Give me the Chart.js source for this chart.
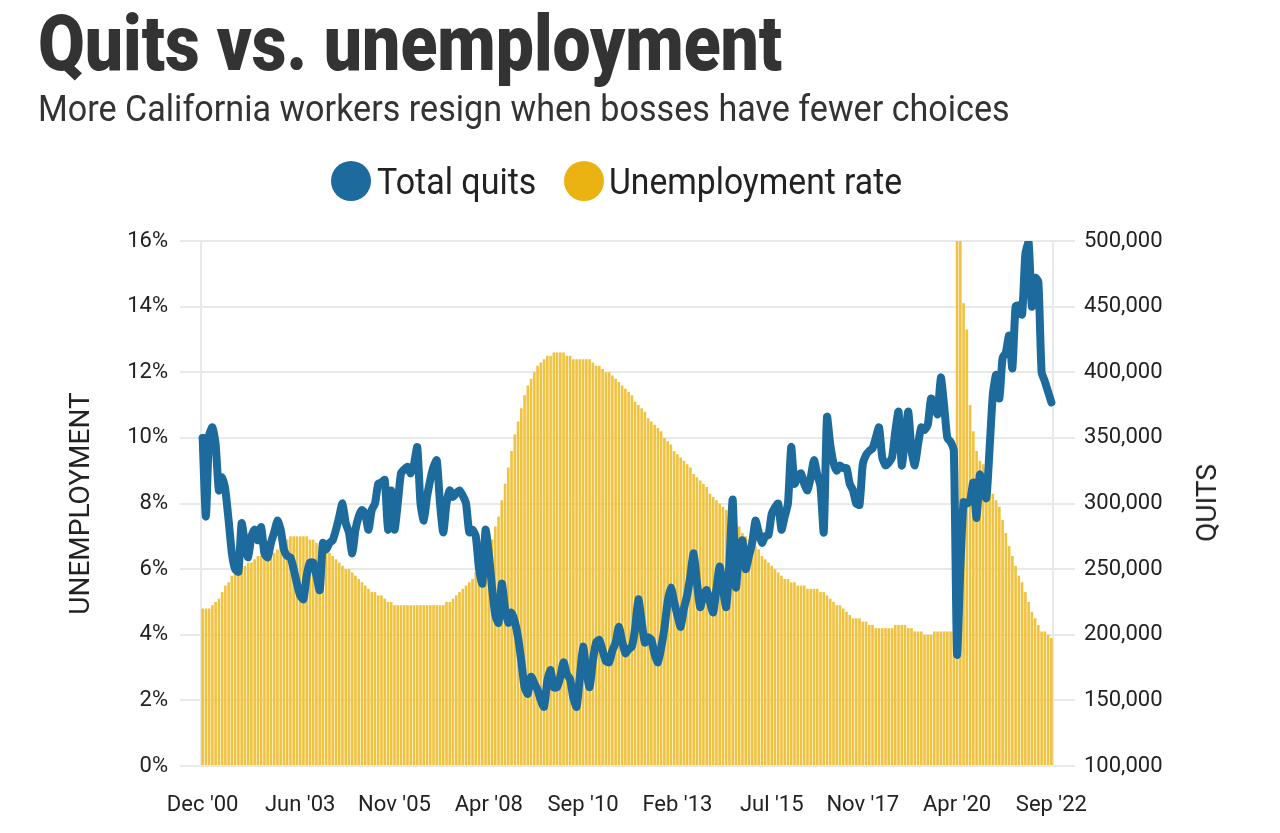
<!DOCTYPE html>
<html>
<head>
<meta charset="utf-8">
<script src="https://cdn.jsdelivr.net/npm/chart.js@4.4.0/dist/chart.umd.min.js"></script>
<style>
  body { margin: 0; background: #fff; font-family: Roboto, sans-serif; }
  #wrap { position: relative; width: 1280px; height: 833px; }
  #wrap canvas { position: absolute; left: 0; top: 0; }
  .txt { position: absolute; white-space: nowrap; transform-origin: 0 0; }
  #title { left: 38px; top: 5px; font-size: 78px; line-height: 78px; font-weight: 900; color: #333; }
  #subtitle { left: 38px; top: 90px; font-size: 37px; line-height: 37px; color: #333; }
  .dot { position: absolute; width: 40px; height: 40px; border-radius: 50%; top: 161px; }
  .leg { top: 163px; font-size: 37px; line-height: 37px; color: #222; }
  #quitsTitle { position: absolute; left: 1207px; top: 503px; font-size: 28px; line-height: 28px; color: #222;
    transform: translate(-50%, -50%) rotate(-90deg); white-space: nowrap; }
</style>
</head>
<body>
<div id="wrap">
  <canvas id="quitsChart"></canvas>
  <div id="title" class="txt" data-w="744">Quits vs. unemployment</div>
  <div id="subtitle" class="txt" data-w="972">More California workers resign when bosses have fewer choices</div>
  <div class="dot" style="left:331px;background:#1c6b9c"></div>
  <div class="txt leg" style="left:377px" data-w="159">Total quits</div>
  <div class="dot" style="left:564px;background:#ebb312"></div>
  <div class="txt leg" style="left:609px" data-w="293">Unemployment rate</div>
  <div id="quitsTitle">QUITS</div>
</div>
<script>
// month labels, Dec 2000 .. Sep 2022
const monthNames = ["Jan", "Feb", "Mar", "Apr", "May", "Jun", "Jul", "Aug", "Sep", "Oct", "Nov", "Dec"];
const months = [];
for (let y = 2000; y <= 2022; y++) {
	for (let m = 0; m < 12; m++) {
		if (y == 2000 && m < 11) continue;
		if (y == 2022 && m > 8) break;
		months.push(monthNames[m] + " '" + String(y).slice(2));
	}
}

const shownTicks = ["Dec '00", "Jun '03", "Nov '05", "Apr '08", "Sep '10", "Feb '13", "Jul '15", "Nov '17", "Apr '20", "Sep '22"];

// unemployment rate, %
const unemployment = [
	4.8,
	4.8, 4.8, 4.9, 5.0, 5.1, 5.3, 5.5, 5.6, 5.8, 5.9, 6.0, 6.1,       // 2001
	6.1, 6.2, 6.2, 6.3, 6.4, 6.4, 6.4, 6.4, 6.5, 6.5, 6.6, 6.7,       // 2002
	6.8, 6.9, 7.0, 7.0, 7.0, 7.0, 7.0, 7.0, 6.9, 6.9, 6.8, 6.7,       // 2003
	6.6, 6.5, 6.5, 6.4, 6.3, 6.2, 6.1, 6.0, 6.0, 5.9, 5.8, 5.7,       // 2004
	5.6, 5.5, 5.4, 5.3, 5.3, 5.2, 5.2, 5.1, 5.0, 5.0, 4.9, 4.9,       // 2005
	4.9, 4.9, 4.9, 4.9, 4.9, 4.9, 4.9, 4.9, 4.9, 4.9, 4.9, 4.9,       // 2006
	4.9, 4.9, 5.0, 5.0, 5.1, 5.2, 5.3, 5.4, 5.5, 5.6, 5.7, 5.9,       // 2007
	6.0, 6.1, 6.3, 6.6, 6.9, 7.3, 7.6, 8.1, 8.6, 9.1, 9.6, 10.1,      // 2008
	10.5, 10.9, 11.3, 11.6, 11.8, 12.0, 12.2, 12.3, 12.4, 12.5, 12.5, 12.6, // 2009
	12.6, 12.6, 12.6, 12.5, 12.5, 12.4, 12.4, 12.4, 12.4, 12.4, 12.4, 12.3, // 2010
	12.2, 12.2, 12.1, 12.0, 12.0, 11.9, 11.8, 11.7, 11.6, 11.5, 11.4, 11.3, // 2011
	11.1, 11.0, 10.9, 10.8, 10.6, 10.5, 10.4, 10.3, 10.2, 10.0, 9.9, 9.8,   // 2012
	9.6, 9.5, 9.4, 9.3, 9.2, 9.1, 8.9, 8.8, 8.7, 8.6, 8.5, 8.3,       // 2013
	8.2, 8.1, 8.0, 7.9, 7.8, 7.6, 7.5, 7.4, 7.3, 7.1, 7.0, 6.9,       // 2014
	6.8, 6.7, 6.6, 6.4, 6.3, 6.2, 6.1, 6.0, 5.9, 5.8, 5.7, 5.7,       // 2015
	5.6, 5.6, 5.5, 5.5, 5.5, 5.4, 5.4, 5.4, 5.4, 5.3, 5.3, 5.2,       // 2016
	5.1, 5.0, 4.9, 4.9, 4.8, 4.7, 4.6, 4.5, 4.5, 4.5, 4.4, 4.4,       // 2017
	4.3, 4.3, 4.2, 4.2, 4.2, 4.2, 4.2, 4.2, 4.3, 4.3, 4.3, 4.3,       // 2018
	4.2, 4.2, 4.1, 4.1, 4.1, 4.0, 4.0, 4.0, 4.1, 4.1, 4.1, 4.1,       // 2019
	4.1, 4.1, 4.1, 16.0, 16.0, 14.1, 13.3, 11.0, 10.2, 9.6, 9.3, 9.2, // 2020
	8.9, 8.5, 8.3, 8.1, 7.9, 7.5, 7.1, 6.7, 6.4, 6.1, 5.8, 5.6,       // 2021
	5.3, 5.0, 4.7, 4.5, 4.3, 4.1, 4.1, 4.0, 3.9                       // 2022
];

// total quits
const quits = [
	350000,
	290000, 352000, 358000, 345000, 310000, 320000, 310000, 287000, 262000, 250000, 248000, 285000, // 2001
	270000, 259000, 275000, 280000, 272000, 282000, 262000, 259000, 270000, 278000, 287000, 280000, // 2002
	265000, 260000, 259000, 250000, 239000, 230000, 227000, 245000, 255000, 255000, 245000, 234000, // 2003
	270000, 265000, 270000, 272000, 280000, 290000, 300000, 285000, 278000, 262000, 280000, 290000, // 2004
	295000, 292000, 280000, 295000, 300000, 315000, 316000, 318000, 280000, 310000, 280000, 300000, // 2005
	323000, 326000, 328000, 323000, 330000, 343000, 300000, 287000, 305000, 318000, 328000, 333000, // 2006
	300000, 278000, 300000, 310000, 305000, 308000, 310000, 306000, 300000, 278000, 280000, 275000, // 2007
	250000, 239000, 280000, 262000, 236000, 215000, 209000, 239000, 220000, 209000, 217000, 210000, // 2008
	198000, 180000, 160000, 155000, 168000, 163000, 158000, 150000, 145000, 165000, 173000, 160000, // 2009
	160000, 168000, 179000, 170000, 166000, 152000, 145000, 168000, 191000, 172000, 160000, 180000, // 2010
	194000, 196000, 188000, 180000, 179000, 188000, 194000, 206000, 195000, 186000, 189000, 191000, // 2011
	205000, 227000, 210000, 194000, 198000, 196000, 185000, 179000, 190000, 205000, 225000, 236000, // 2012
	225000, 215000, 206000, 220000, 230000, 245000, 262000, 240000, 221000, 230000, 234000, 225000, // 2013
	217000, 235000, 252000, 235000, 221000, 255000, 303000, 236000, 265000, 272000, 250000, 260000, // 2014
	270000, 287000, 278000, 270000, 275000, 276000, 292000, 297000, 300000, 280000, 290000, 300000, // 2015
	343000, 315000, 320000, 323000, 315000, 310000, 320000, 333000, 322000, 313000, 278000, 366000, // 2016
	345000, 331000, 325000, 329000, 327000, 327000, 315000, 310000, 300000, 299000, 330000, 337000, // 2017
	340000, 342000, 350000, 358000, 335000, 329000, 331000, 335000, 355000, 370000, 329000, 350000, // 2018
	370000, 340000, 329000, 345000, 358000, 356000, 360000, 380000, 375000, 368000, 396000, 375000, // 2019
	350000, 347000, 340000, 185000, 250000, 301000, 300000, 302000, 316000, 289000, 322000, 310000, // 2020
	304000, 342000, 383000, 398000, 380000, 411000, 415000, 428000, 403000, 450000, 451000, 444000, // 2021
	490000, 499000, 450000, 472000, 469000, 400000, 393000, 385000, 377000                          // 2022
];

if (quits.length != months.length || unemployment.length != months.length) {
	throw new Error("length mismatch " + months.length + " " + quits.length + " " + unemployment.length);
}

// squeeze the headline texts to the condensed widths of the original
document.querySelectorAll('.txt[data-w]').forEach(function (el) {
	const w = +el.getAttribute('data-w');
	el.style.transform = 'scaleX(' + (w / el.offsetWidth) + ')';
});

const gridColor = '#e9e9e9';
const tickFont = { family: 'Roboto', size: 22 };

var ctx = document.getElementById('quitsChart').getContext('2d');
new Chart(ctx, {
	type: 'bar',
	data: {
		labels: months,
		datasets: [{
			type: 'line',
			label: 'Total quits',
			data: quits,
			yAxisID: 'y1',
			borderColor: '#1c6b9c',
			borderWidth: 8,
			pointRadius: 0,
			tension: 0.2,
			borderJoinStyle: 'round',
			borderCapStyle: 'round',
			order: 0
		}, {
			label: 'Unemployment rate',
			data: unemployment,
			yAxisID: 'y',
			backgroundColor: '#f0c23e',
			barPercentage: 0.8,
			categoryPercentage: 1,
			order: 1
		}]
	},
	options: {
		responsive: true,
		maintainAspectRatio: false,
		animation: false,
		layout: { padding: { top: 241, left: 0, right: 0, bottom: 0 } },
		plugins: {
			legend: { display: false },
			tooltip: { enabled: false }
		},
		scales: {
			x: {
				grid: { display: false, drawTicks: false },
				border: { display: false },
				ticks: {
					autoSkip: false,
					maxRotation: 0,
					minRotation: 0,
					padding: 26,
					color: '#222',
					font: tickFont,
					callback: function (value) {
						const lbl = this.getLabelForValue(value);
						return shownTicks.includes(lbl) ? lbl : null;
					}
				},
				afterFit: function (scale) { scale.height = 67; }
			},
			y: {
				position: 'left',
				min: 0,
				max: 16,
				ticks: {
					stepSize: 2,
					padding: 12,
					color: '#222',
					font: tickFont,
					callback: v => v + '%'
				},
				grid: { color: gridColor, lineWidth: 2, tickLength: 21 },
				border: { display: true, color: gridColor, width: 2 },
				title: {
					display: true,
					text: 'UNEMPLOYMENT',
					color: '#222',
					font: { family: 'Roboto', size: 28 },
					padding: { top: 65, bottom: 0 }
				},
				afterFit: function (scale) { scale.width = 201; }
			},
			y1: {
				position: 'right',
				min: 100000,
				max: 500000,
				ticks: {
					stepSize: 50000,
					padding: 9,
					color: '#222',
					font: tickFont,
					callback: v => v.toLocaleString('en-US')
				},
				grid: { color: gridColor, lineWidth: 2, tickLength: 22, drawOnChartArea: false },
				border: { display: true, color: gridColor, width: 2 },
				afterFit: function (scale) { scale.width = 227; }
			}
		}
	}
});
</script>
</body>
</html>
